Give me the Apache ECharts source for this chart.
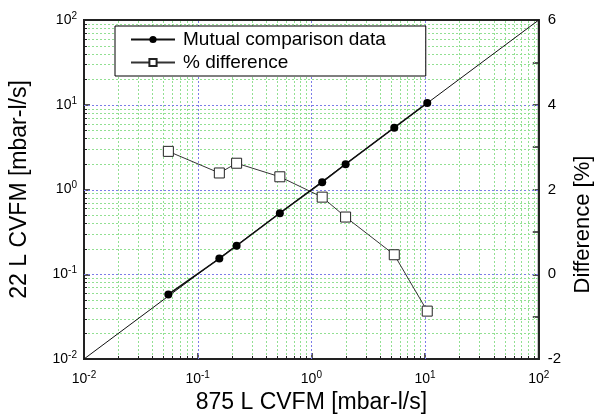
<!DOCTYPE html>
<html>
<head>
<meta charset="utf-8">
<script src="https://cdn.jsdelivr.net/npm/echarts@6/dist/echarts.min.js"></script>
<style>
  html, body { margin: 0; padding: 0; background: #fff; }
  #chart { width: 602px; height: 419px; }
</style>
</head>
<body>
<div id="chart"></div>
<script>
  // 875 L CVFM flow (x), 22 L CVFM flow (left y), difference in % (right y)
  const flow875 = [0.0552, 0.155, 0.22, 0.528, 1.245, 2.0, 5.36, 10.45];
  const flow22 = [0.0578, 0.153, 0.217, 0.526, 1.22, 1.99, 5.36, 10.5];
  const diffPct = [2.9, 2.39, 2.62, 2.3, 1.82, 1.35, 0.46, -0.87];
  const diagonal = [[0.01, 0.01], [100, 100]];

  const axisFont = 'Liberation Sans, Arial, sans-serif';

  // grid positions: decades (major) and 2..9 per decade (minor)
  const gridVals = [];
  for (let e = -2; e < 2; e++) {
    for (let d = 1; d <= 9; d++) {
      if (e === -2 && d === 1) continue;
      gridVals.push(+(d * Math.pow(10, e)).toPrecision(2));
    }
  }
  const isDecade = (v) => Math.abs(Math.log10(v) - Math.round(Math.log10(v))) < 1e-9;

  const chart = echarts.init(document.getElementById('chart'));

  const powLabel = (v) => {
    const e = Math.round(Math.log10(v));
    return '{b|10}{s|' + e + '}';
  };
  const powRich = {
    b: { fontSize: 14, color: '#000', fontFamily: axisFont },
    s: { fontSize: 10, color: '#000', fontFamily: axisFont, padding: [0, 0, 8, 0] },
  };

  const option = {
    animation: false,
    grid: {
      left: 82, right: 51, top: 20, bottom: 58,
      show: true, borderColor: '#222', borderWidth: 2,
    },
    legend: {
      orient: 'vertical',
      left: 115, top: 26, z: 10,
      backgroundColor: '#fff',
      borderColor: '#000', borderWidth: 1, borderRadius: 0,
      padding: [4, 40, 4, 15],
      itemGap: 4,
      itemWidth: 44, itemHeight: 9,
      textStyle: { fontSize: 19, color: '#000', fontFamily: axisFont, padding: [0, 0, 0, 3] },
      data: ['Mutual comparison data', '% difference'],
    },
    xAxis: {
      type: 'log', logBase: 10, min: 0.01, max: 100,
      name: '875 L CVFM [mbar-l/s]',
      nameLocation: 'middle', nameGap: 32,
      nameTextStyle: { fontSize: 23, color: '#000', fontFamily: axisFont },
      axisLine: { onZero: false, lineStyle: { color: '#222', width: 2 } },
      axisTick: { inside: true, length: 6, lineStyle: { color: '#222', width: 1.5 } },
      axisLabel: { formatter: powLabel, rich: powRich, margin: 11 },
      splitLine: { show: false },
    },
    yAxis: [
      {
        type: 'log', logBase: 10, min: 0.01, max: 100,
        name: '22 L CVFM [mbar-l/s]',
        nameLocation: 'middle', nameGap: 53, nameRotate: 90,
        nameTextStyle: { fontSize: 23, color: '#000', fontFamily: axisFont },
        axisLine: { show: true, onZero: false, lineStyle: { color: '#222', width: 2 } },
        axisTick: { inside: true, length: 6, lineStyle: { color: '#222', width: 1.5 } },
        axisLabel: { formatter: powLabel, rich: powRich, margin: 7 },
        splitLine: { show: false },
      },
      {
        type: 'value', min: -2, max: 6, interval: 2,
        position: 'right',
        name: 'Difference [%]',
        nameLocation: 'middle', nameGap: 31, nameRotate: 90,
        nameTextStyle: { fontSize: 22, color: '#000', fontFamily: axisFont, padding: [0, 70, 0, 0] },
        axisLine: { show: true, onZero: false, lineStyle: { color: '#222', width: 2 } },
        axisTick: { inside: true, length: 6, lineStyle: { color: '#222', width: 1.5 } },
        minorTick: { show: true, splitNumber: 2, length: 6, lineStyle: { color: '#222', width: 1.5 } },
        axisLabel: { fontSize: 15, color: '#000', fontFamily: axisFont, margin: 9 },
        splitLine: { show: false },
      },
    ],
    series: [
      {
        // dotted log grid (blue at decades, green between) plus small inward minor ticks
        name: 'log grid',
        type: 'custom',
        silent: true,
        z: 1,
        clip: false,
        data: gridVals.map((v) => [v, v]),
        renderItem: (params, api) => {
          const v = api.value(0);
          const major = isDecade(v);
          const b = api.coord([v, 0.01]);
          const t = api.coord([v, 100]);
          const l = api.coord([0.01, v]);
          const r = api.coord([100, v]);
          const bx = Math.round(b[0]) + 0.5;
          const ly = Math.round(l[1]) + 0.5;
          const gridStyle = {
            stroke: major ? '#7c7ce8' : '#92e092',
            lineWidth: 1,
            lineDash: [2, 2],
          };
          const tickStyle = { stroke: '#222', lineWidth: 1 };
          const children = [
            { type: 'line', shape: { x1: bx, y1: b[1], x2: bx, y2: t[1] }, style: gridStyle },
            { type: 'line', shape: { x1: l[0], y1: ly, x2: r[0], y2: ly }, style: gridStyle },
          ];
          if (!major) {
            children.push(
              { type: 'line', shape: { x1: bx, y1: b[1], x2: bx, y2: b[1] - 3 }, style: tickStyle },
              { type: 'line', shape: { x1: l[0], y1: ly, x2: l[0] + 3, y2: ly }, style: tickStyle }
            );
          }
          return { type: 'group', children };
        },
      },
      {
        name: 'y = x',
        type: 'line',
        data: diagonal,
        symbol: 'none',
        z: 2,
        lineStyle: { color: '#111', width: 1 },
      },
      {
        name: 'Mutual comparison data',
        type: 'line',
        data: flow875.map((x, i) => [x, flow22[i]]),
        symbol: 'circle', symbolSize: 8,
        z: 4,
        itemStyle: { color: '#000' },
        lineStyle: { color: '#111', width: 1.5 },
      },
      {
        name: '% difference',
        type: 'line',
        yAxisIndex: 1,
        data: flow875.map((x, i) => [x, diffPct[i]]),
        symbol: 'rect', symbolSize: 10,
        z: 3,
        itemStyle: { color: '#fff', borderColor: '#222', borderWidth: 1 },
        lineStyle: { color: '#333', width: 1 },
      },
    ],
  };
  chart.setOption(option);
</script>
</body>
</html>
